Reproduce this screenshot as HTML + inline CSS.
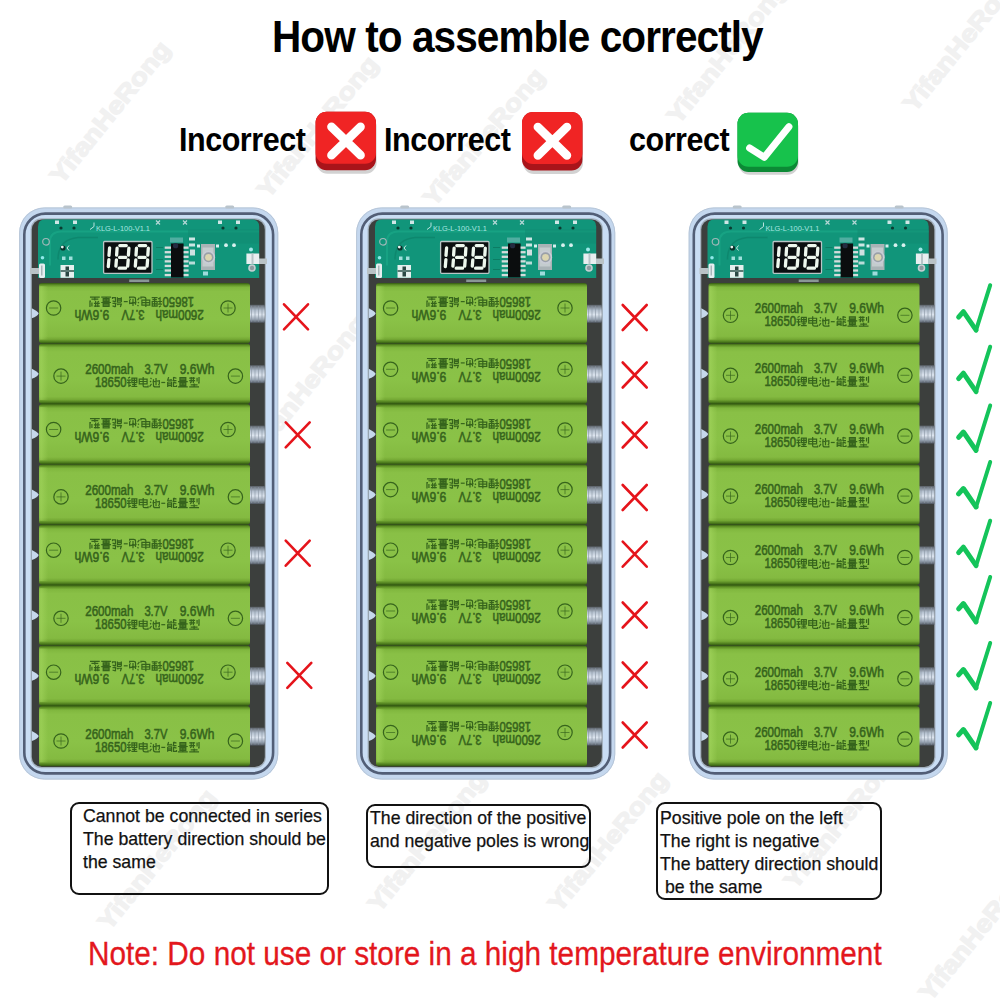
<!DOCTYPE html><html><head><meta charset="utf-8"><style>

*{margin:0;padding:0;box-sizing:border-box}
html,body{width:1000px;height:1000px;background:#fff;overflow:hidden}
body{position:relative;font-family:"Liberation Sans",sans-serif}
svg.main{position:absolute;left:0;top:0}
.title{position:absolute;left:272px;top:11px;font-size:45px;font-weight:bold;color:#000;white-space:nowrap;transform-origin:0 0;letter-spacing:-1px;transform:scaleX(0.9)}
.lbl{position:absolute;font-size:32.8px;font-weight:bold;color:#000;white-space:nowrap;letter-spacing:-0.5px;transform-origin:0 0;transform:scaleX(0.93)}
.box{position:absolute;border:2px solid #111;border-radius:9px;background:transparent}
.bt{position:absolute;font-size:17.7px;line-height:23px;color:#111;white-space:nowrap;margin-top:1.5px;-webkit-text-stroke:0.25px #111}
.note{position:absolute;left:88.2px;top:935px;font-size:32.7px;color:#e3171d;-webkit-text-stroke:0.3px #e3171d;white-space:nowrap;transform-origin:0 0;transform:scaleX(0.91)}

</style></head><body>
<svg class="main" width="1000" height="1000" viewBox="0 0 1000 1000"><defs>
<linearGradient id="gb" x1="0" y1="0" x2="0" y2="1">
<stop offset="0" stop-color="#355c12"/><stop offset="0.03" stop-color="#5f9026"/><stop offset="0.07" stop-color="#80b73e"/>
<stop offset="0.14" stop-color="#89c046"/><stop offset="0.6" stop-color="#8ac247"/><stop offset="0.88" stop-color="#84ba41"/>
<stop offset="0.93" stop-color="#74a834"/><stop offset="0.97" stop-color="#4f7e1e"/><stop offset="1" stop-color="#2f5410"/></linearGradient><linearGradient id="gl" x1="0" y1="0" x2="1" y2="0">
<stop offset="0" stop-color="#a6d860" stop-opacity="0.0"/><stop offset="0.2" stop-color="#a6d860" stop-opacity="0.55"/><stop offset="1" stop-color="#a6d860" stop-opacity="0"/></linearGradient><linearGradient id="gs" x1="0" y1="0" x2="0" y2="1">
<stop offset="0" stop-color="#5a6068"/><stop offset="0.3" stop-color="#b4c0ce"/><stop offset="0.55" stop-color="#dce4ee"/><stop offset="0.8" stop-color="#9aa6b4"/><stop offset="1" stop-color="#4f5660"/></linearGradient><g id="bc" fill="none" stroke="#36641c"><circle cx="22" cy="32.2" r="7.2" stroke-width="1.2"/><path d="M17.5 32.2 H26.5 M22 27.7 V36.7" stroke-width="0.9" opacity="0.75"/><circle cx="196.4" cy="32.2" r="7.2" stroke-width="1.2"/><path d="M191.9 32.2 H200.9" stroke-width="0.9" opacity="0.75"/><g stroke="#36641c" stroke-width="0.55" fill="#36641c" font-family="Liberation Sans" font-size="13.8"><text x="46.2" y="30" textLength="48.3" lengthAdjust="spacingAndGlyphs">2600mah</text><text x="105.4" y="30" textLength="23" lengthAdjust="spacingAndGlyphs">3.7V</text><text x="140.7" y="30" textLength="34.7" lengthAdjust="spacingAndGlyphs">9.6Wh</text><text x="56" y="43" textLength="31.5" lengthAdjust="spacingAndGlyphs">18650</text></g><g transform="translate(88,33.2) scale(0.98,0.98)" stroke-width="1.25"><path transform="translate(0,0)" d="M1 1.2 L3.2 0 M0 3 H4 M0 5.6 H4 M2 3 V9.3 L4 8.2 M5 1 H10 V5.6 H5 Z M7.5 1 V9.6 M5 3.3 H10 M5.2 7.6 H9.8 M4.5 9.6 H10.5"/><path transform="translate(11.5,0)" d="M1 2 H9 V7 H1 Z M1 4.5 H9 M5 0 V9 Q5 10 7 10 H10 V8.5"/><path transform="translate(23,0)" d="M1 0.8 L2 2 M0.5 4 L1.6 5 M0 9.6 L2 7 M4 2.2 V8.2 Q4 10 6 10 H10 V8.6 M3 5 L10 3.6 V7 L9 8 M6.6 1 V8.4"/><path transform="translate(34.5,0)" d="M0.5 5.5 H4.5"/><path transform="translate(40.5,0)" d="M2 0 L1 3 H5 L4 2 M1 5 H5 V10 M1 5 V10 M1 7 H5 M1 8.6 H5 M7 0 V3.6 H10 M7 0.2 L10 1.2 M7 5 V9.6 H10 V8.2 M7 5.2 L10 6.2"/><path transform="translate(52,0)" d="M2 0.5 H8 V3.5 H2 Z M2 2 H8 M0 4.6 H10 M2 5.6 H8 V8.6 H2 Z M2 7.1 H8 M5 5.6 V10 M0 10 H10"/><path transform="translate(63.5,0)" d="M0 1 H6 M0 3.6 H6 M2 0 V5 L1 6 M4.2 0 V6 M8 0.6 V4.6 M10 0 V6 L9 6 M1.5 8 H8.5 M5 6.6 V10 M0 10 H10"/></g></g><g id="pcb"><path d="M0 58.5 V7 Q0 0 7 0 H214.2 Q221.2 0 221.2 7 V58.5 Z" fill="#11957a"/><path d="M12 46 V22 Q12 12 24 12 H221" stroke="#1aa888" stroke-width="2" fill="none" opacity="0.7"/><path d="M20 40 Q20 20 40 18 H60" stroke="#0b7f66" stroke-width="1.5" fill="none" opacity="0.6"/><rect x="150" y="10" width="71" height="14" fill="#0f8a70" opacity="0.5"/><path d="M118 28 H125 M118 40 H125 M118 50 H125" stroke="#0c7d64" stroke-width="1.2"/><rect x="17" y="1" width="4" height="3.5" fill="#cfe6e6"/><rect x="35" y="1" width="4" height="3.5" fill="#cfe6e6"/><rect x="180" y="1" width="4" height="3.5" fill="#cfe6e6"/><rect x="198" y="1" width="4" height="3.5" fill="#cfe6e6"/><path d="M118 1 L122 5 M122 1 L118 5" stroke="#b8d8d8" stroke-width="1.2"/><path d="M145 1 L149 5 M149 1 L145 5" stroke="#b8d8d8" stroke-width="1.2"/><circle cx="23" cy="8.5" r="1.6" fill="#0a3b30"/><circle cx="36" cy="8.5" r="1.6" fill="#0a3b30"/><circle cx="185" cy="8.5" r="1.6" fill="#0a3b30"/><circle cx="198" cy="8.5" r="1.6" fill="#0a3b30"/><text x="58" y="11" font-family="Liberation Sans" font-size="7" fill="#a8e6e0" textLength="54" lengthAdjust="spacingAndGlyphs">KLG-L-100-V1.1</text><path d="M52 10 L56 7 V3" stroke="#b9e3e0" stroke-width="1" fill="none"/><circle cx="8" cy="22.3" r="3.3" fill="none" stroke="#9fb8b8" stroke-width="1.2"/><circle cx="25" cy="28.5" r="2.6" fill="#0a2f28"/><circle cx="24.3" cy="27.6" r="1.4" fill="#e8f4f0"/><path d="M31 26 L29 28.5 L31 31" stroke="#cfe8e4" stroke-width="1" fill="none"/><rect x="24" y="37" width="3.5" height="3.5" fill="#9fe0dc"/><rect x="31" y="37" width="3.5" height="3.5" fill="#9fe0dc"/><rect x="22.5" y="45.5" width="13.5" height="12.8" fill="#e4f0ee"/><rect x="27.5" y="47" width="3.5" height="10" fill="#2a4844"/><rect x="22.5" y="50.5" width="13.5" height="2" fill="#5a7a74"/><rect x="-8" y="48.5" width="9" height="6" fill="#b9c2c6"/><rect x="1" y="44" width="6" height="14.5" rx="1.5" fill="#e6eef0"/><rect x="3" y="46" width="1.5" height="10" fill="#a8b6ba"/><circle cx="4.5" cy="38.2" r="1.8" fill="#8fe8e8"/><rect x="65.6" y="22" width="48.4" height="31.8" rx="1" fill="#0b0f10" stroke="#b9c6c6" stroke-width="1.3"/><path d="M71.6 28.4 L71 35.8 M70.9 40.2 L70.3 47.2 M81.8 26.1 H88.3 M81.6 37.9 H87.7 M81.2 48.7 H87.5 M79.1 28.6 L78.6 35.6 M90.89999999999999 28.6 L90.39999999999999 35.6 M78.39999999999999 40.4 L77.89999999999999 46.6 M90.2 40.4 L89.7 46.6 M101.2 26.1 H107.7 M101.0 37.9 H107.10000000000001 M100.60000000000001 48.7 H106.9 M98.5 28.6 L98.0 35.6 M110.3 28.6 L109.8 35.6 M97.8 40.4 L97.3 46.6 M109.60000000000001 40.4 L109.10000000000001 46.6" stroke="#eef8ee" stroke-width="3.3" stroke-linecap="round" fill="none"/><rect x="133" y="24" width="12.6" height="34" fill="#0b0d0e"/><rect x="126.7" y="27.00" width="6.3" height="2.3" fill="#d5dcdc"/><rect x="145.6" y="27.00" width="5" height="2.3" fill="#d5dcdc"/><rect x="126.7" y="31.57" width="6.3" height="2.3" fill="#d5dcdc"/><rect x="145.6" y="31.57" width="5" height="2.3" fill="#d5dcdc"/><rect x="126.7" y="36.14" width="6.3" height="2.3" fill="#d5dcdc"/><rect x="145.6" y="36.14" width="5" height="2.3" fill="#d5dcdc"/><rect x="126.7" y="40.71" width="6.3" height="2.3" fill="#d5dcdc"/><rect x="145.6" y="40.71" width="5" height="2.3" fill="#d5dcdc"/><rect x="126.7" y="45.28" width="6.3" height="2.3" fill="#d5dcdc"/><rect x="145.6" y="45.28" width="5" height="2.3" fill="#d5dcdc"/><rect x="126.7" y="49.85" width="6.3" height="2.3" fill="#d5dcdc"/><rect x="145.6" y="49.85" width="5" height="2.3" fill="#d5dcdc"/><rect x="126.7" y="54.42" width="6.3" height="2.3" fill="#d5dcdc"/><rect x="145.6" y="54.42" width="5" height="2.3" fill="#d5dcdc"/><circle cx="137.6" cy="26.2" r="2.6" fill="#232b40"/><rect x="132" y="18" width="13" height="5" fill="#8fc8c8" opacity="0.5"/><rect x="151" y="18" width="6" height="3" fill="#cde6e4"/><rect x="151" y="24" width="6" height="3" fill="#cde6e4"/><rect x="152" y="30" width="5" height="6" fill="#cfe0e0"/><rect x="151" y="42" width="6" height="3" fill="#b8dcd8"/><rect x="163" y="24.5" width="14" height="26" fill="#a9b3b6"/><rect x="164.5" y="28" width="11" height="19" fill="#c4ccce"/><circle cx="170.5" cy="37.8" r="6.6" fill="#c9cdd6"/><circle cx="170.5" cy="37.8" r="5" fill="#9aa0a8"/><circle cx="170.5" cy="37.8" r="3.4" fill="#dcd6b0"/><rect x="159" y="25" width="3" height="3" fill="#d8eeee"/><rect x="178" y="25" width="3" height="3" fill="#d8eeee"/><rect x="165" y="52" width="5" height="4" fill="#9fdcdc"/><circle cx="188" cy="25.7" r="1.9" fill="#d8f0ee"/><circle cx="196" cy="25.7" r="1.9" fill="#d8f0ee"/><rect x="208.4" y="34" width="12.8" height="10.5" fill="#e8eef0"/><rect x="213.5" y="34" width="2" height="10.5" fill="#b8c4c8"/><rect x="221" y="39" width="8" height="5.5" fill="#b9c2c6"/><circle cx="213" cy="30" r="2" fill="#9ee8e8"/><circle cx="214" cy="48.5" r="3.8" fill="#c5cfd3"/><circle cx="214" cy="48.5" r="2.2" fill="#8d9aa0"/></g>
</defs>
<g fill="#f1f1f1" stroke="#f1f1f1" stroke-width="1.4" font-family="Liberation Sans" font-weight="bold" font-size="24">
<text transform="translate(52,178) rotate(-51.0)" y="12" textLength="175" lengthAdjust="spacingAndGlyphs">YifanHeRong</text>
<text transform="translate(259,192) rotate(-50.6)" y="12" textLength="175" lengthAdjust="spacingAndGlyphs">YifanHeRong</text>
<text transform="translate(425,200) rotate(-49.5)" y="12" textLength="172" lengthAdjust="spacingAndGlyphs">YifanHeRong</text>
<text transform="translate(669,118) rotate(-51.0)" y="12" textLength="175" lengthAdjust="spacingAndGlyphs">YifanHeRong</text>
<text transform="translate(905,106) rotate(-51.0)" y="12" textLength="175" lengthAdjust="spacingAndGlyphs">YifanHeRong</text>
<text transform="translate(100,924) rotate(-51.1)" y="12" textLength="172" lengthAdjust="spacingAndGlyphs">YifanHeRong</text>
<text transform="translate(370,906) rotate(-51.1)" y="12" textLength="172" lengthAdjust="spacingAndGlyphs">YifanHeRong</text>
<text transform="translate(550,906) rotate(-50.6)" y="12" textLength="173" lengthAdjust="spacingAndGlyphs">YifanHeRong</text>
<text transform="translate(786,883) rotate(-51.1)" y="12" textLength="172" lengthAdjust="spacingAndGlyphs">YifanHeRong</text>
<text transform="translate(921,995) rotate(-51.1)" y="12" textLength="172" lengthAdjust="spacingAndGlyphs">YifanHeRong</text>
<text transform="translate(248,452) rotate(-51.0)" y="12" textLength="175" lengthAdjust="spacingAndGlyphs">YifanHeRong</text>
</g>
<g transform="translate(19.2,207.5)"><rect x="0" y="0" width="259" height="572" rx="25" fill="#c4d7ee"/><rect x="0.4" y="0.4" width="258.2" height="571.2" rx="25" fill="none" stroke="#b2c0d0" stroke-width="0.8"/><rect x="5.1" y="6.1" width="248.8" height="559.8" rx="21" fill="#c9ddf4" stroke="#525e76" stroke-width="2.6"/><rect x="11.4" y="10.8" width="235.4" height="549.9" rx="11" fill="#a3b0bd"/><rect x="12.6" y="12" width="233" height="547.5" rx="10" fill="#3c3f3d"/><rect x="44" y="-2" width="9" height="3" rx="1.5" fill="#b9c4cc"/><rect x="206" y="-2" width="9" height="3" rx="1.5" fill="#b9c4cc"/><use href="#pcb" x="18.8" y="12"/><rect x="110" y="72" width="20" height="2.5" fill="#8a9696"/><rect x="229.8" y="97.3" width="15.8" height="18" fill="url(#gs)"/><rect x="231.8" y="98.3" width="1" height="16" fill="#8a96a4" opacity="0.6"/><rect x="235.3" y="98.3" width="1" height="16" fill="#8a96a4" opacity="0.6"/><rect x="238.8" y="98.3" width="1" height="16" fill="#8a96a4" opacity="0.6"/><rect x="242.3" y="98.3" width="1" height="16" fill="#8a96a4" opacity="0.6"/><path d="M12.6 100.8 Q18.5 103.8 19.5 105.8 Q18.5 108.8 12.6 110.8 Z" fill="#c6d8ec"/><g transform="translate(19.8,75.60)"><rect x="0" y="0" width="211" height="60.4" rx="3" fill="url(#gb)"/><rect x="0" y="3" width="9" height="53.4" fill="url(#gl)"/><use href="#bc" transform="rotate(180 105.5 28.55)"/></g><rect x="229.8" y="157.7" width="15.8" height="18" fill="url(#gs)"/><rect x="231.8" y="158.7" width="1" height="16" fill="#8a96a4" opacity="0.6"/><rect x="235.3" y="158.7" width="1" height="16" fill="#8a96a4" opacity="0.6"/><rect x="238.8" y="158.7" width="1" height="16" fill="#8a96a4" opacity="0.6"/><rect x="242.3" y="158.7" width="1" height="16" fill="#8a96a4" opacity="0.6"/><path d="M12.6 161.2 Q18.5 164.2 19.5 166.2 Q18.5 169.2 12.6 171.2 Z" fill="#c6d8ec"/><g transform="translate(19.8,136.00)"><rect x="0" y="0" width="211" height="60.4" rx="3" fill="url(#gb)"/><rect x="0" y="3" width="9" height="53.4" fill="url(#gl)"/><use href="#bc" transform="translate(0 0.40)"/></g><rect x="229.8" y="218.1" width="15.8" height="18" fill="url(#gs)"/><rect x="231.8" y="219.1" width="1" height="16" fill="#8a96a4" opacity="0.6"/><rect x="235.3" y="219.1" width="1" height="16" fill="#8a96a4" opacity="0.6"/><rect x="238.8" y="219.1" width="1" height="16" fill="#8a96a4" opacity="0.6"/><rect x="242.3" y="219.1" width="1" height="16" fill="#8a96a4" opacity="0.6"/><path d="M12.6 221.6 Q18.5 224.6 19.5 226.6 Q18.5 229.6 12.6 231.6 Z" fill="#c6d8ec"/><g transform="translate(19.8,196.40)"><rect x="0" y="0" width="211" height="60.4" rx="3" fill="url(#gb)"/><rect x="0" y="3" width="9" height="53.4" fill="url(#gl)"/><use href="#bc" transform="rotate(180 105.5 28.90)"/></g><rect x="229.8" y="278.5" width="15.8" height="18" fill="url(#gs)"/><rect x="231.8" y="279.5" width="1" height="16" fill="#8a96a4" opacity="0.6"/><rect x="235.3" y="279.5" width="1" height="16" fill="#8a96a4" opacity="0.6"/><rect x="238.8" y="279.5" width="1" height="16" fill="#8a96a4" opacity="0.6"/><rect x="242.3" y="279.5" width="1" height="16" fill="#8a96a4" opacity="0.6"/><path d="M12.6 282.0 Q18.5 285.0 19.5 287.0 Q18.5 290.0 12.6 292.0 Z" fill="#c6d8ec"/><g transform="translate(19.8,256.80)"><rect x="0" y="0" width="211" height="60.4" rx="3" fill="url(#gb)"/><rect x="0" y="3" width="9" height="53.4" fill="url(#gl)"/><use href="#bc" transform="translate(0 0.40)"/></g><rect x="229.8" y="338.9" width="15.8" height="18" fill="url(#gs)"/><rect x="231.8" y="339.9" width="1" height="16" fill="#8a96a4" opacity="0.6"/><rect x="235.3" y="339.9" width="1" height="16" fill="#8a96a4" opacity="0.6"/><rect x="238.8" y="339.9" width="1" height="16" fill="#8a96a4" opacity="0.6"/><rect x="242.3" y="339.9" width="1" height="16" fill="#8a96a4" opacity="0.6"/><path d="M12.6 342.4 Q18.5 345.4 19.5 347.4 Q18.5 350.4 12.6 352.4 Z" fill="#c6d8ec"/><g transform="translate(19.8,317.20)"><rect x="0" y="0" width="211" height="60.4" rx="3" fill="url(#gb)"/><rect x="0" y="3" width="9" height="53.4" fill="url(#gl)"/><use href="#bc" transform="rotate(180 105.5 28.85)"/></g><rect x="229.8" y="399.3" width="15.8" height="18" fill="url(#gs)"/><rect x="231.8" y="400.3" width="1" height="16" fill="#8a96a4" opacity="0.6"/><rect x="235.3" y="400.3" width="1" height="16" fill="#8a96a4" opacity="0.6"/><rect x="238.8" y="400.3" width="1" height="16" fill="#8a96a4" opacity="0.6"/><rect x="242.3" y="400.3" width="1" height="16" fill="#8a96a4" opacity="0.6"/><path d="M12.6 402.8 Q18.5 405.8 19.5 407.8 Q18.5 410.8 12.6 412.8 Z" fill="#c6d8ec"/><g transform="translate(19.8,377.60)"><rect x="0" y="0" width="211" height="60.4" rx="3" fill="url(#gb)"/><rect x="0" y="3" width="9" height="53.4" fill="url(#gl)"/><use href="#bc" transform="translate(0 1.00)"/></g><rect x="229.8" y="459.7" width="15.8" height="18" fill="url(#gs)"/><rect x="231.8" y="460.7" width="1" height="16" fill="#8a96a4" opacity="0.6"/><rect x="235.3" y="460.7" width="1" height="16" fill="#8a96a4" opacity="0.6"/><rect x="238.8" y="460.7" width="1" height="16" fill="#8a96a4" opacity="0.6"/><rect x="242.3" y="460.7" width="1" height="16" fill="#8a96a4" opacity="0.6"/><path d="M12.6 463.2 Q18.5 466.2 19.5 468.2 Q18.5 471.2 12.6 473.2 Z" fill="#c6d8ec"/><g transform="translate(19.8,438.00)"><rect x="0" y="0" width="211" height="60.4" rx="3" fill="url(#gb)"/><rect x="0" y="3" width="9" height="53.4" fill="url(#gl)"/><use href="#bc" transform="rotate(180 105.5 29.45)"/></g><rect x="229.8" y="520.1" width="15.8" height="18" fill="url(#gs)"/><rect x="231.8" y="521.1" width="1" height="16" fill="#8a96a4" opacity="0.6"/><rect x="235.3" y="521.1" width="1" height="16" fill="#8a96a4" opacity="0.6"/><rect x="238.8" y="521.1" width="1" height="16" fill="#8a96a4" opacity="0.6"/><rect x="242.3" y="521.1" width="1" height="16" fill="#8a96a4" opacity="0.6"/><path d="M12.6 523.6 Q18.5 526.6 19.5 528.6 Q18.5 531.6 12.6 533.6 Z" fill="#c6d8ec"/><g transform="translate(19.8,498.40)"><rect x="0" y="0" width="211" height="60.4" rx="3" fill="url(#gb)"/><rect x="0" y="3" width="9" height="53.4" fill="url(#gl)"/><use href="#bc" transform="translate(0 2.90)"/></g></g>
<g transform="translate(356.2,207.5)"><rect x="0" y="0" width="259" height="572" rx="25" fill="#c4d7ee"/><rect x="0.4" y="0.4" width="258.2" height="571.2" rx="25" fill="none" stroke="#b2c0d0" stroke-width="0.8"/><rect x="5.1" y="6.1" width="248.8" height="559.8" rx="21" fill="#c9ddf4" stroke="#525e76" stroke-width="2.6"/><rect x="11.4" y="10.8" width="235.4" height="549.9" rx="11" fill="#a3b0bd"/><rect x="12.6" y="12" width="233" height="547.5" rx="10" fill="#3c3f3d"/><rect x="44" y="-2" width="9" height="3" rx="1.5" fill="#b9c4cc"/><rect x="206" y="-2" width="9" height="3" rx="1.5" fill="#b9c4cc"/><use href="#pcb" x="18.8" y="12"/><rect x="110" y="72" width="20" height="2.5" fill="#8a9696"/><rect x="229.8" y="97.3" width="15.8" height="18" fill="url(#gs)"/><rect x="231.8" y="98.3" width="1" height="16" fill="#8a96a4" opacity="0.6"/><rect x="235.3" y="98.3" width="1" height="16" fill="#8a96a4" opacity="0.6"/><rect x="238.8" y="98.3" width="1" height="16" fill="#8a96a4" opacity="0.6"/><rect x="242.3" y="98.3" width="1" height="16" fill="#8a96a4" opacity="0.6"/><path d="M12.6 100.8 Q18.5 103.8 19.5 105.8 Q18.5 108.8 12.6 110.8 Z" fill="#c6d8ec"/><g transform="translate(19.8,75.60)"><rect x="0" y="0" width="211" height="60.4" rx="3" fill="url(#gb)"/><rect x="0" y="3" width="9" height="53.4" fill="url(#gl)"/><use href="#bc" transform="rotate(180 105.5 28.55)"/></g><rect x="229.8" y="157.7" width="15.8" height="18" fill="url(#gs)"/><rect x="231.8" y="158.7" width="1" height="16" fill="#8a96a4" opacity="0.6"/><rect x="235.3" y="158.7" width="1" height="16" fill="#8a96a4" opacity="0.6"/><rect x="238.8" y="158.7" width="1" height="16" fill="#8a96a4" opacity="0.6"/><rect x="242.3" y="158.7" width="1" height="16" fill="#8a96a4" opacity="0.6"/><path d="M12.6 161.2 Q18.5 164.2 19.5 166.2 Q18.5 169.2 12.6 171.2 Z" fill="#c6d8ec"/><g transform="translate(19.8,136.00)"><rect x="0" y="0" width="211" height="60.4" rx="3" fill="url(#gb)"/><rect x="0" y="3" width="9" height="53.4" fill="url(#gl)"/><use href="#bc" transform="rotate(180 105.5 29.00)"/></g><rect x="229.8" y="218.1" width="15.8" height="18" fill="url(#gs)"/><rect x="231.8" y="219.1" width="1" height="16" fill="#8a96a4" opacity="0.6"/><rect x="235.3" y="219.1" width="1" height="16" fill="#8a96a4" opacity="0.6"/><rect x="238.8" y="219.1" width="1" height="16" fill="#8a96a4" opacity="0.6"/><rect x="242.3" y="219.1" width="1" height="16" fill="#8a96a4" opacity="0.6"/><path d="M12.6 221.6 Q18.5 224.6 19.5 226.6 Q18.5 229.6 12.6 231.6 Z" fill="#c6d8ec"/><g transform="translate(19.8,196.40)"><rect x="0" y="0" width="211" height="60.4" rx="3" fill="url(#gb)"/><rect x="0" y="3" width="9" height="53.4" fill="url(#gl)"/><use href="#bc" transform="rotate(180 105.5 29.15)"/></g><rect x="229.8" y="278.5" width="15.8" height="18" fill="url(#gs)"/><rect x="231.8" y="279.5" width="1" height="16" fill="#8a96a4" opacity="0.6"/><rect x="235.3" y="279.5" width="1" height="16" fill="#8a96a4" opacity="0.6"/><rect x="238.8" y="279.5" width="1" height="16" fill="#8a96a4" opacity="0.6"/><rect x="242.3" y="279.5" width="1" height="16" fill="#8a96a4" opacity="0.6"/><path d="M12.6 282.0 Q18.5 285.0 19.5 287.0 Q18.5 290.0 12.6 292.0 Z" fill="#c6d8ec"/><g transform="translate(19.8,256.80)"><rect x="0" y="0" width="211" height="60.4" rx="3" fill="url(#gb)"/><rect x="0" y="3" width="9" height="53.4" fill="url(#gl)"/><use href="#bc" transform="rotate(180 105.5 28.75)"/></g><rect x="229.8" y="338.9" width="15.8" height="18" fill="url(#gs)"/><rect x="231.8" y="339.9" width="1" height="16" fill="#8a96a4" opacity="0.6"/><rect x="235.3" y="339.9" width="1" height="16" fill="#8a96a4" opacity="0.6"/><rect x="238.8" y="339.9" width="1" height="16" fill="#8a96a4" opacity="0.6"/><rect x="242.3" y="339.9" width="1" height="16" fill="#8a96a4" opacity="0.6"/><path d="M12.6 342.4 Q18.5 345.4 19.5 347.4 Q18.5 350.4 12.6 352.4 Z" fill="#c6d8ec"/><g transform="translate(19.8,317.20)"><rect x="0" y="0" width="211" height="60.4" rx="3" fill="url(#gb)"/><rect x="0" y="3" width="9" height="53.4" fill="url(#gl)"/><use href="#bc" transform="rotate(180 105.5 28.85)"/></g><rect x="229.8" y="399.3" width="15.8" height="18" fill="url(#gs)"/><rect x="231.8" y="400.3" width="1" height="16" fill="#8a96a4" opacity="0.6"/><rect x="235.3" y="400.3" width="1" height="16" fill="#8a96a4" opacity="0.6"/><rect x="238.8" y="400.3" width="1" height="16" fill="#8a96a4" opacity="0.6"/><rect x="242.3" y="400.3" width="1" height="16" fill="#8a96a4" opacity="0.6"/><path d="M12.6 402.8 Q18.5 405.8 19.5 407.8 Q18.5 410.8 12.6 412.8 Z" fill="#c6d8ec"/><g transform="translate(19.8,377.60)"><rect x="0" y="0" width="211" height="60.4" rx="3" fill="url(#gb)"/><rect x="0" y="3" width="9" height="53.4" fill="url(#gl)"/><use href="#bc" transform="rotate(180 105.5 29.05)"/></g><rect x="229.8" y="459.7" width="15.8" height="18" fill="url(#gs)"/><rect x="231.8" y="460.7" width="1" height="16" fill="#8a96a4" opacity="0.6"/><rect x="235.3" y="460.7" width="1" height="16" fill="#8a96a4" opacity="0.6"/><rect x="238.8" y="460.7" width="1" height="16" fill="#8a96a4" opacity="0.6"/><rect x="242.3" y="460.7" width="1" height="16" fill="#8a96a4" opacity="0.6"/><path d="M12.6 463.2 Q18.5 466.2 19.5 468.2 Q18.5 471.2 12.6 473.2 Z" fill="#c6d8ec"/><g transform="translate(19.8,438.00)"><rect x="0" y="0" width="211" height="60.4" rx="3" fill="url(#gb)"/><rect x="0" y="3" width="9" height="53.4" fill="url(#gl)"/><use href="#bc" transform="rotate(180 105.5 29.45)"/></g><rect x="229.8" y="520.1" width="15.8" height="18" fill="url(#gs)"/><rect x="231.8" y="521.1" width="1" height="16" fill="#8a96a4" opacity="0.6"/><rect x="235.3" y="521.1" width="1" height="16" fill="#8a96a4" opacity="0.6"/><rect x="238.8" y="521.1" width="1" height="16" fill="#8a96a4" opacity="0.6"/><rect x="242.3" y="521.1" width="1" height="16" fill="#8a96a4" opacity="0.6"/><path d="M12.6 523.6 Q18.5 526.6 19.5 528.6 Q18.5 531.6 12.6 533.6 Z" fill="#c6d8ec"/><g transform="translate(19.8,498.40)"><rect x="0" y="0" width="211" height="60.4" rx="3" fill="url(#gb)"/><rect x="0" y="3" width="9" height="53.4" fill="url(#gl)"/><use href="#bc" transform="rotate(180 105.5 29.40)"/></g></g>
<g transform="translate(688.7,207.5)"><rect x="0" y="0" width="259" height="572" rx="25" fill="#c4d7ee"/><rect x="0.4" y="0.4" width="258.2" height="571.2" rx="25" fill="none" stroke="#b2c0d0" stroke-width="0.8"/><rect x="5.1" y="6.1" width="248.8" height="559.8" rx="21" fill="#c9ddf4" stroke="#525e76" stroke-width="2.6"/><rect x="11.4" y="10.8" width="235.4" height="549.9" rx="11" fill="#a3b0bd"/><rect x="12.6" y="12" width="233" height="547.5" rx="10" fill="#3c3f3d"/><rect x="44" y="-2" width="9" height="3" rx="1.5" fill="#b9c4cc"/><rect x="206" y="-2" width="9" height="3" rx="1.5" fill="#b9c4cc"/><use href="#pcb" x="18.8" y="12"/><rect x="110" y="72" width="20" height="2.5" fill="#8a9696"/><rect x="229.8" y="97.3" width="15.8" height="18" fill="url(#gs)"/><rect x="231.8" y="98.3" width="1" height="16" fill="#8a96a4" opacity="0.6"/><rect x="235.3" y="98.3" width="1" height="16" fill="#8a96a4" opacity="0.6"/><rect x="238.8" y="98.3" width="1" height="16" fill="#8a96a4" opacity="0.6"/><rect x="242.3" y="98.3" width="1" height="16" fill="#8a96a4" opacity="0.6"/><path d="M12.6 100.8 Q18.5 103.8 19.5 105.8 Q18.5 108.8 12.6 110.8 Z" fill="#c6d8ec"/><g transform="translate(19.8,75.60)"><rect x="0" y="0" width="211" height="60.4" rx="3" fill="url(#gb)"/><rect x="0" y="3" width="9" height="53.4" fill="url(#gl)"/><use href="#bc" transform="translate(0 0.00)"/></g><rect x="229.8" y="157.7" width="15.8" height="18" fill="url(#gs)"/><rect x="231.8" y="158.7" width="1" height="16" fill="#8a96a4" opacity="0.6"/><rect x="235.3" y="158.7" width="1" height="16" fill="#8a96a4" opacity="0.6"/><rect x="238.8" y="158.7" width="1" height="16" fill="#8a96a4" opacity="0.6"/><rect x="242.3" y="158.7" width="1" height="16" fill="#8a96a4" opacity="0.6"/><path d="M12.6 161.2 Q18.5 164.2 19.5 166.2 Q18.5 169.2 12.6 171.2 Z" fill="#c6d8ec"/><g transform="translate(19.8,136.00)"><rect x="0" y="0" width="211" height="60.4" rx="3" fill="url(#gb)"/><rect x="0" y="3" width="9" height="53.4" fill="url(#gl)"/><use href="#bc" transform="translate(0 -0.40)"/></g><rect x="229.8" y="218.1" width="15.8" height="18" fill="url(#gs)"/><rect x="231.8" y="219.1" width="1" height="16" fill="#8a96a4" opacity="0.6"/><rect x="235.3" y="219.1" width="1" height="16" fill="#8a96a4" opacity="0.6"/><rect x="238.8" y="219.1" width="1" height="16" fill="#8a96a4" opacity="0.6"/><rect x="242.3" y="219.1" width="1" height="16" fill="#8a96a4" opacity="0.6"/><path d="M12.6 221.6 Q18.5 224.6 19.5 226.6 Q18.5 229.6 12.6 231.6 Z" fill="#c6d8ec"/><g transform="translate(19.8,196.40)"><rect x="0" y="0" width="211" height="60.4" rx="3" fill="url(#gb)"/><rect x="0" y="3" width="9" height="53.4" fill="url(#gl)"/><use href="#bc" transform="translate(0 0.00)"/></g><rect x="229.8" y="278.5" width="15.8" height="18" fill="url(#gs)"/><rect x="231.8" y="279.5" width="1" height="16" fill="#8a96a4" opacity="0.6"/><rect x="235.3" y="279.5" width="1" height="16" fill="#8a96a4" opacity="0.6"/><rect x="238.8" y="279.5" width="1" height="16" fill="#8a96a4" opacity="0.6"/><rect x="242.3" y="279.5" width="1" height="16" fill="#8a96a4" opacity="0.6"/><path d="M12.6 282.0 Q18.5 285.0 19.5 287.0 Q18.5 290.0 12.6 292.0 Z" fill="#c6d8ec"/><g transform="translate(19.8,256.80)"><rect x="0" y="0" width="211" height="60.4" rx="3" fill="url(#gb)"/><rect x="0" y="3" width="9" height="53.4" fill="url(#gl)"/><use href="#bc" transform="translate(0 -0.40)"/></g><rect x="229.8" y="338.9" width="15.8" height="18" fill="url(#gs)"/><rect x="231.8" y="339.9" width="1" height="16" fill="#8a96a4" opacity="0.6"/><rect x="235.3" y="339.9" width="1" height="16" fill="#8a96a4" opacity="0.6"/><rect x="238.8" y="339.9" width="1" height="16" fill="#8a96a4" opacity="0.6"/><rect x="242.3" y="339.9" width="1" height="16" fill="#8a96a4" opacity="0.6"/><path d="M12.6 342.4 Q18.5 345.4 19.5 347.4 Q18.5 350.4 12.6 352.4 Z" fill="#c6d8ec"/><g transform="translate(19.8,317.20)"><rect x="0" y="0" width="211" height="60.4" rx="3" fill="url(#gb)"/><rect x="0" y="3" width="9" height="53.4" fill="url(#gl)"/><use href="#bc" transform="translate(0 0.60)"/></g><rect x="229.8" y="399.3" width="15.8" height="18" fill="url(#gs)"/><rect x="231.8" y="400.3" width="1" height="16" fill="#8a96a4" opacity="0.6"/><rect x="235.3" y="400.3" width="1" height="16" fill="#8a96a4" opacity="0.6"/><rect x="238.8" y="400.3" width="1" height="16" fill="#8a96a4" opacity="0.6"/><rect x="242.3" y="400.3" width="1" height="16" fill="#8a96a4" opacity="0.6"/><path d="M12.6 402.8 Q18.5 405.8 19.5 407.8 Q18.5 410.8 12.6 412.8 Z" fill="#c6d8ec"/><g transform="translate(19.8,377.60)"><rect x="0" y="0" width="211" height="60.4" rx="3" fill="url(#gb)"/><rect x="0" y="3" width="9" height="53.4" fill="url(#gl)"/><use href="#bc" transform="translate(0 0.30)"/></g><rect x="229.8" y="459.7" width="15.8" height="18" fill="url(#gs)"/><rect x="231.8" y="460.7" width="1" height="16" fill="#8a96a4" opacity="0.6"/><rect x="235.3" y="460.7" width="1" height="16" fill="#8a96a4" opacity="0.6"/><rect x="238.8" y="460.7" width="1" height="16" fill="#8a96a4" opacity="0.6"/><rect x="242.3" y="460.7" width="1" height="16" fill="#8a96a4" opacity="0.6"/><path d="M12.6 463.2 Q18.5 466.2 19.5 468.2 Q18.5 471.2 12.6 473.2 Z" fill="#c6d8ec"/><g transform="translate(19.8,438.00)"><rect x="0" y="0" width="211" height="60.4" rx="3" fill="url(#gb)"/><rect x="0" y="3" width="9" height="53.4" fill="url(#gl)"/><use href="#bc" transform="translate(0 1.10)"/></g><rect x="229.8" y="520.1" width="15.8" height="18" fill="url(#gs)"/><rect x="231.8" y="521.1" width="1" height="16" fill="#8a96a4" opacity="0.6"/><rect x="235.3" y="521.1" width="1" height="16" fill="#8a96a4" opacity="0.6"/><rect x="238.8" y="521.1" width="1" height="16" fill="#8a96a4" opacity="0.6"/><rect x="242.3" y="521.1" width="1" height="16" fill="#8a96a4" opacity="0.6"/><path d="M12.6 523.6 Q18.5 526.6 19.5 528.6 Q18.5 531.6 12.6 533.6 Z" fill="#c6d8ec"/><g transform="translate(19.8,498.40)"><rect x="0" y="0" width="211" height="60.4" rx="3" fill="url(#gb)"/><rect x="0" y="3" width="9" height="53.4" fill="url(#gl)"/><use href="#bc" transform="translate(0 1.00)"/></g></g>
<g transform="translate(315.6,111.8)">
<rect x="1" y="4" width="60" height="58" rx="11" fill="#d2d2d2"/>
<rect x="0" y="0" width="60.4" height="58.5" rx="11" fill="#a9141a"/>
<rect x="0" y="0" width="60.4" height="52" rx="11" fill="#f02424"/>
<path d="M15.9 15 L44.9 43.4 M44.9 15 L15.9 43.4" stroke="#fff" stroke-width="8.7" stroke-linecap="round"/>
</g>
<g transform="translate(522,112)">
<rect x="1" y="4" width="60" height="58" rx="11" fill="#d2d2d2"/>
<rect x="0" y="0" width="60.4" height="58.5" rx="11" fill="#a9141a"/>
<rect x="0" y="0" width="60.4" height="52" rx="11" fill="#f02424"/>
<path d="M15.9 15 L44.9 43.4 M44.9 15 L15.9 43.4" stroke="#fff" stroke-width="8.7" stroke-linecap="round"/>
</g>
<g transform="translate(737.5,112.7)">
<rect x="1" y="4" width="60" height="58" rx="11" fill="#d2d2d2"/>
<rect x="0" y="0" width="60.5" height="59.3" rx="11" fill="#0c8a35"/>
<rect x="0" y="0" width="60.5" height="54" rx="11" fill="#17c24c"/>
<path d="M12.1 35.3 L26.8 44.6 L51.4 14" stroke="#fff" stroke-width="7" stroke-linecap="round" stroke-linejoin="round" fill="none"/>
</g>
<path d="M284 304.3 L308 329.3 M308 304.3 L284 329.3" stroke="#e5141b" stroke-width="2.6" stroke-linecap="round"/>
<path d="M285.7 422.4 L309.7 447.4 M309.7 422.4 L285.7 447.4" stroke="#e5141b" stroke-width="2.6" stroke-linecap="round"/>
<path d="M285.7 540.7 L309.7 565.7 M309.7 540.7 L285.7 565.7" stroke="#e5141b" stroke-width="2.6" stroke-linecap="round"/>
<path d="M287.3 662.9 L311.3 687.9 M311.3 662.9 L287.3 687.9" stroke="#e5141b" stroke-width="2.6" stroke-linecap="round"/>
<path d="M622.7 305.0 L646.7 330.0 M646.7 305.0 L622.7 330.0" stroke="#e5141b" stroke-width="2.6" stroke-linecap="round"/>
<path d="M622.7 362.5 L646.7 387.5 M646.7 362.5 L622.7 387.5" stroke="#e5141b" stroke-width="2.6" stroke-linecap="round"/>
<path d="M622.7 422.5 L646.7 447.5 M646.7 422.5 L622.7 447.5" stroke="#e5141b" stroke-width="2.6" stroke-linecap="round"/>
<path d="M622.7 485.0 L646.7 510.0 M646.7 485.0 L622.7 510.0" stroke="#e5141b" stroke-width="2.6" stroke-linecap="round"/>
<path d="M622.7 541.7 L646.7 566.7 M646.7 541.7 L622.7 566.7" stroke="#e5141b" stroke-width="2.6" stroke-linecap="round"/>
<path d="M622.7 602.5 L646.7 627.5 M646.7 602.5 L622.7 627.5" stroke="#e5141b" stroke-width="2.6" stroke-linecap="round"/>
<path d="M622.7 662.5 L646.7 687.5 M646.7 662.5 L622.7 687.5" stroke="#e5141b" stroke-width="2.6" stroke-linecap="round"/>
<path d="M622.7 722.5 L646.7 747.5 M646.7 722.5 L622.7 747.5" stroke="#e5141b" stroke-width="2.6" stroke-linecap="round"/>
<g stroke="#14c45a" stroke-linejoin="round" stroke-linecap="round" fill="none"><path d="M958.6 317.09999999999997 L963.4 311.7 L976.1 330.2" stroke-width="4.9"/><path d="M976.1 330.2 L990.2 285.2" stroke-width="4"/></g>
<g stroke="#14c45a" stroke-linejoin="round" stroke-linecap="round" fill="none"><path d="M958.6 378.59999999999997 L963.4 373.2 L976.1 391.7" stroke-width="4.9"/><path d="M976.1 391.7 L990.2 346.7" stroke-width="4"/></g>
<g stroke="#14c45a" stroke-linejoin="round" stroke-linecap="round" fill="none"><path d="M958.6 437.4 L963.4 432 L976.1 450.5" stroke-width="4.9"/><path d="M976.1 450.5 L990.2 405.5" stroke-width="4"/></g>
<g stroke="#14c45a" stroke-linejoin="round" stroke-linecap="round" fill="none"><path d="M958.6 493.9 L963.4 488.5 L976.1 507.0" stroke-width="4.9"/><path d="M976.1 507.0 L990.2 462.0" stroke-width="4"/></g>
<g stroke="#14c45a" stroke-linejoin="round" stroke-linecap="round" fill="none"><path d="M958.6 552.6 L963.4 547.2 L976.1 565.7" stroke-width="4.9"/><path d="M976.1 565.7 L990.2 520.7" stroke-width="4"/></g>
<g stroke="#14c45a" stroke-linejoin="round" stroke-linecap="round" fill="none"><path d="M958.6 608.9 L963.4 603.5 L976.1 622.0" stroke-width="4.9"/><path d="M976.1 622.0 L990.2 577.0" stroke-width="4"/></g>
<g stroke="#14c45a" stroke-linejoin="round" stroke-linecap="round" fill="none"><path d="M958.6 674.9 L963.4 669.5 L976.1 688.0" stroke-width="4.9"/><path d="M976.1 688.0 L990.2 643.0" stroke-width="4"/></g>
<g stroke="#14c45a" stroke-linejoin="round" stroke-linecap="round" fill="none"><path d="M958.6 734.9 L963.4 729.5 L976.1 748.0" stroke-width="4.9"/><path d="M976.1 748.0 L990.2 703.0" stroke-width="4"/></g>
</svg>
<div class="title">How to assemble correctly</div>
<div class="lbl" style="left:179px;top:121px">Incorrect</div>
<div class="lbl" style="left:384px;top:121px">Incorrect</div>
<div class="lbl" style="left:629px;top:121px">correct</div>
<div class="box" style="left:70px;top:802px;width:259px;height:93px"></div>
<div class="bt" style="left:83px;top:803px">Cannot be connected in series<br>The battery direction should be<br>the same</div>
<div class="box" style="left:366px;top:804px;width:225px;height:64px"></div>
<div class="bt" style="left:370px;top:805px">The direction of the positive<br>and negative poles is wrong</div>
<div class="box" style="left:656px;top:802px;width:226px;height:98px"></div>
<div class="bt" style="left:660px;top:805px">Positive pole on the left<br>The right is negative<br>The battery direction should<br>&nbsp;be the same</div>
<div class="note">Note: Do not use or store in a high temperature environment</div>
</body></html>
